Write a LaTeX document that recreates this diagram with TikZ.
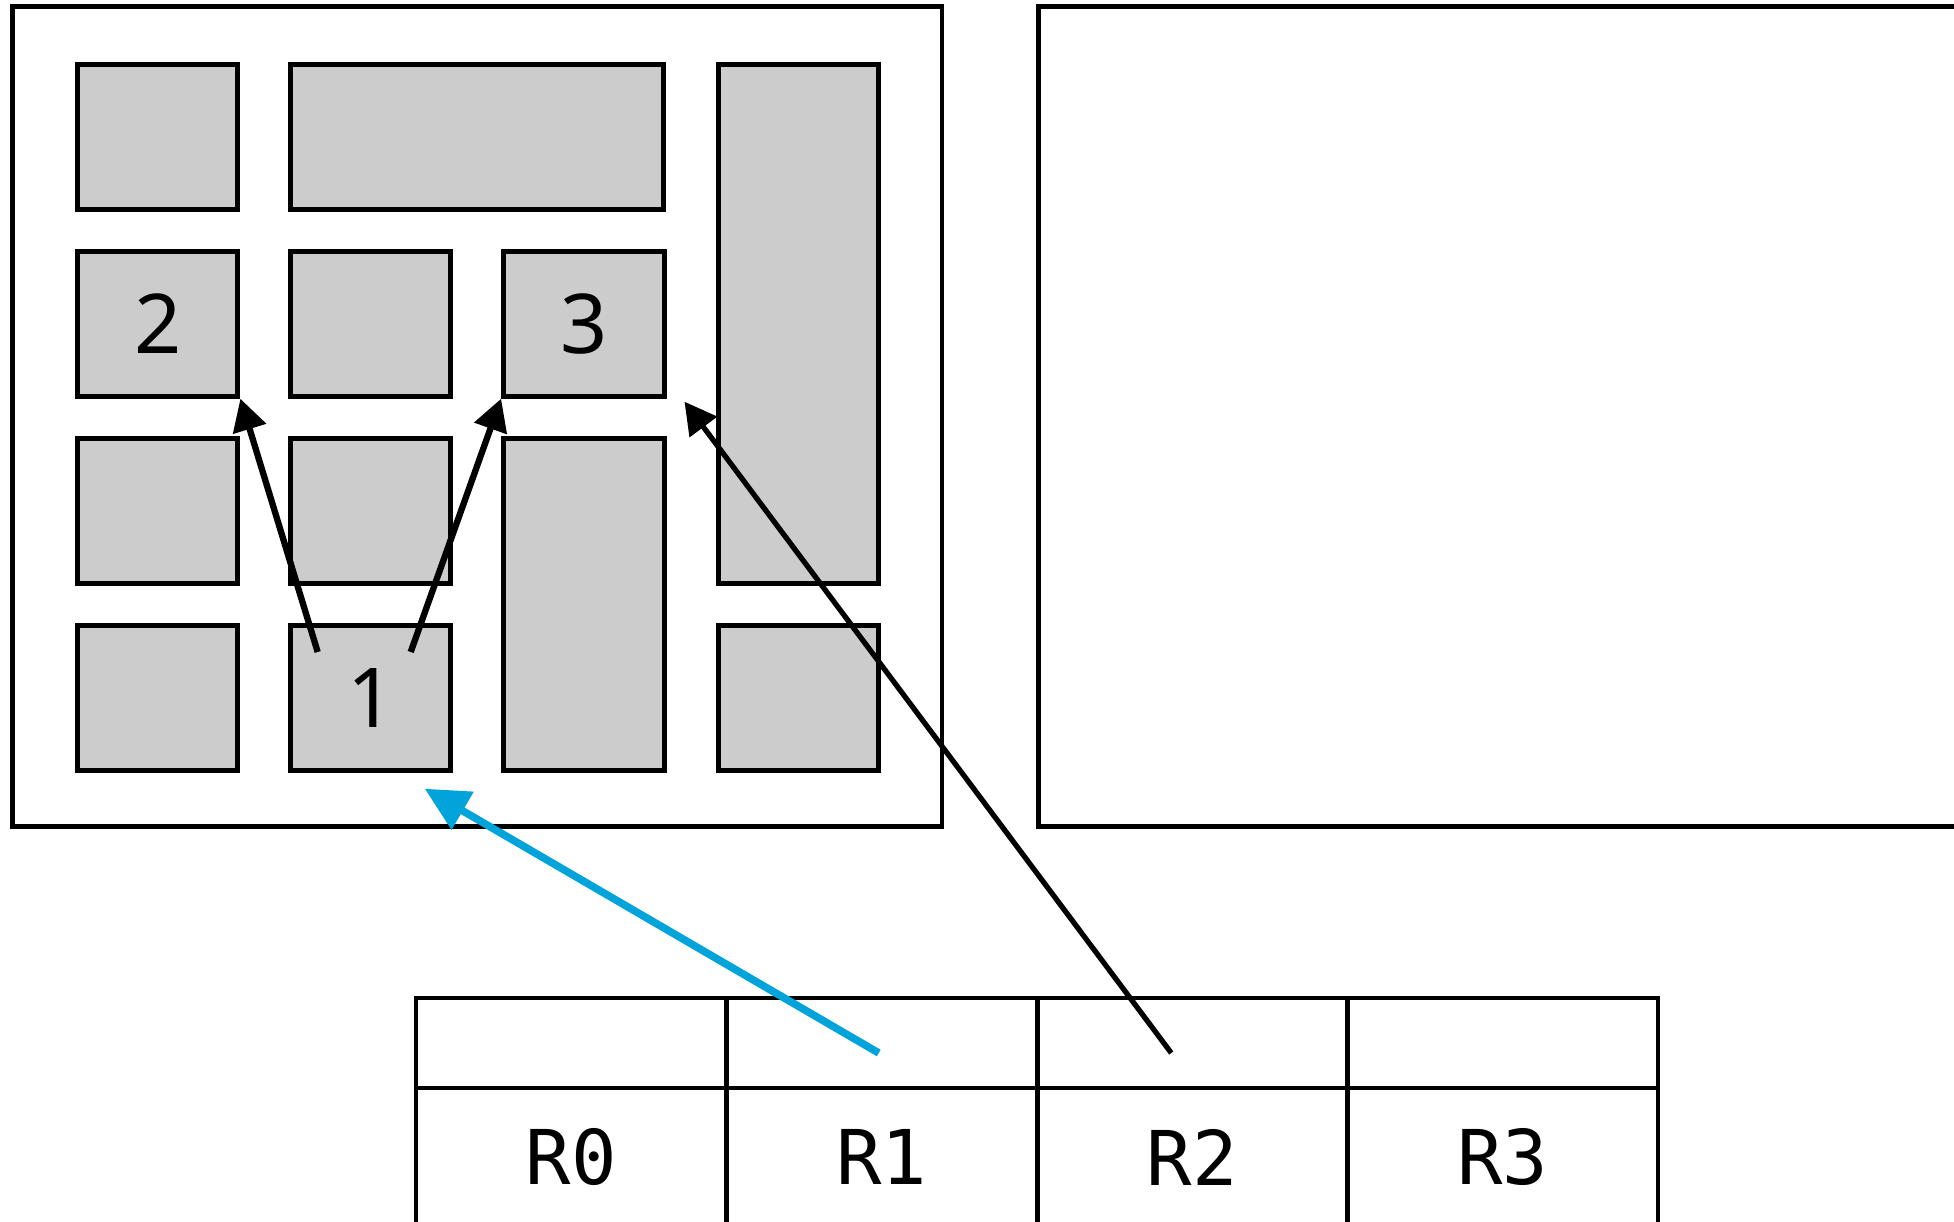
\documentclass[tikz,border=0pt]{standalone}
\usepackage{fontspec}
\setmonofont{DejaVu Sans Mono}
\newfontfamily\digitfont{Noto Sans}
\definecolor{blockGray}{HTML}{CCCCCC}
\definecolor{accentBlue}{HTML}{00A3DA}
\usetikzlibrary{calc, arrows.meta}
\tikzset{
  panel/.style={draw=black, fill=white, line width=2.8pt, inner sep=0pt, minimum height=16.42cm},
  block/.style={draw=black, fill=blockGray, line width=2.8pt, inner sep=0pt,
                minimum width=3.21cm, minimum height=2.89cm, font=\digitfont\fontsize{47}{50}\selectfont},
  hcell/.style={draw=black, line width=2.8pt, inner sep=0pt, minimum width=6.21cm, minimum height=1.8cm},
  rcell/.style={hcell, minimum height=2.76cm, font=\ttfamily\fontsize{43}{48}\selectfont},
  link/.style={draw=black, line width=3.6pt, -{Triangle[length=18pt, width=19pt]}},
  hotlink/.style={draw=accentBlue, line width=4.3pt, -{Triangle[length=25pt, width=24pt]}},
}

\begin{document}
\begin{tikzpicture}[x=0.02cm, y=-0.02cm]
  \useasboundingbox (0,0) rectangle (1954,1222);
  \fill[white] (0,0) rectangle (1954,1222);
  \clip (0,0) rectangle (1954,1222);

  \node[panel, minimum width=18.59cm] (left) at (477.3,416.5) {};
  \node[panel, minimum width=22cm] (right) at (1588,416.5) {};

  \node[block] (t11) at (157.7,137) {};
  \node[block, minimum width=7.47cm] (t12) at (477.2,137) {};
  \node[block, minimum height=10.37cm] (t14) at (798.3,324) {};
  \node[block] (t21) at (157.7,324) {2};
  \node[block] (t22) at (370.7,324) {};
  \node[block] (t23) at (583.8,324) {3};
  \node[block] (t31) at (157.7,511) {};
  \node[block] (t32) at (370.7,511) {};
  \node[block, minimum height=6.63cm] (t33) at (583.8,604.5) {};
  \node[block] (t41) at (157.7,698) {};
  \node[block] (t42) at (370.7,698) {1};
  \node[block] (t44) at (798.3,698) {};

  \foreach \i in {0,...,3} {
    \node[hcell] (hd\i) at ({571.25+310.5*\i},1043) {};
    \node[rcell] (reg\i) at ({571.25+310.5*\i},1157) {R\i};
  }

  \coordinate (up1) at ($(t42.center)+(-53,-46)$);
  \coordinate (up2) at ($(t42.center)+(40,-46)$);
  \coordinate (tip3) at ($(t23.south east)+(18,3)$);
  \coordinate (tip1) at ($(t42.south)+(54,16)$);
  \coordinate (src1) at ($(hd1.center)+(-3,10)$);
  \coordinate (src2) at ($(hd2.center)+(-21,10)$);

  \draw[link] (up1) -- (t21.south east);
  \draw[link] (up2) -- (t23.south west);
  \draw[link, line width=3pt] (src2) -- (tip3);
  \draw[hotlink] (src1) -- (tip1);
\end{tikzpicture}
\end{document}
